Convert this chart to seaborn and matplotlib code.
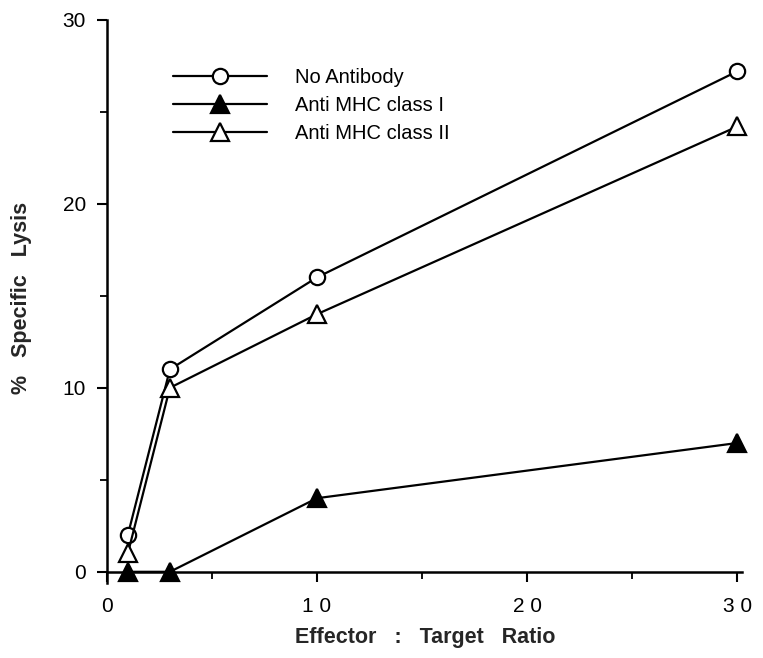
import matplotlib
matplotlib.use("Agg")
import matplotlib.pyplot as plt
import seaborn as sns
import pandas as pd

ratios = [1, 3, 10, 30]
no_antibody = [2, 11, 16, 27.2]
anti_class1 = [0, 0, 4, 7]
anti_class2 = [1, 10, 14, 24.2]
series_names = ["No Antibody", "Anti MHC class I", "Anti MHC class II"]
x_ticks = [0, 10, 20, 30]
y_ticks = [0, 10, 20, 30]

sns.set_theme(style="ticks")
plt.rcParams['font.family'] = ['Liberation Sans', 'DejaVu Sans']

fig = plt.figure(figsize=(7.63, 6.58), dpi=100)
ax = fig.add_axes([0.140, 0.131, 0.832, 0.839])

styles = [
    dict(marker="o", markerfacecolor="white", markersize=11),
    dict(marker="^", markerfacecolor="black", markersize=13),
    dict(marker="^", markerfacecolor="white", markersize=13),
]
for name, vals, st in zip(series_names, [no_antibody, anti_class1, anti_class2], styles):
    df = pd.DataFrame({"ratio": ratios, "lysis": vals})
    sns.lineplot(data=df, x="ratio", y="lysis", ax=ax, color="black", linewidth=1.6,
                 markeredgecolor="black", markeredgewidth=1.6, label=name, **st)

ax.set_xlim(0, 30.2)
ax.set_ylim(0, 30)
ax.set_xticks(x_ticks)
ax.set_yticks(y_ticks)
ax.set_xticks([5, 15, 25], minor=True)
ax.set_yticks([5, 15, 25], minor=True)
ax.set_xticklabels([str(t) if t == 0 else " ".join(str(t)) for t in x_ticks])
ax.tick_params(axis="both", which="major", length=7, width=1.5, labelsize=15, direction="out",
               colors="black")
ax.tick_params(axis="both", which="minor", length=5, width=1.3, direction="out", colors="black")
ax.tick_params(axis="x", pad=11)
ax.tick_params(axis="y", pad=8)
ax.spines["top"].set_visible(False)
ax.spines["right"].set_visible(False)
ax.spines["left"].set_linewidth(1.8)
ax.spines["bottom"].set_linewidth(1.8)
ax.spines["left"].set_bounds(-0.6, 30)
for sp in ax.spines.values():
    sp.set_color("black")
for ln in ax.lines:
    ln.set_clip_on(False)

ax.set_xlabel("")
ax.set_ylabel("")
fig.text(425 / 763, 1 - 637 / 658, "Effector   :   Target   Ratio", fontsize=15.5, fontweight="bold",
         ha="center", va="center")
fig.text(22 / 763, 1 - 298 / 658, "%   Specific   Lysis", fontsize=15.5, fontweight="bold",
         ha="center", va="center", rotation=90)

leg = ax.legend(loc="upper left", bbox_to_anchor=(0.075, 0.945), frameon=False,
                handlelength=4.7, fontsize=14.5, labelspacing=0.45, handletextpad=1.4)
for t in leg.get_texts():
    t.set_color("black")

fig.savefig("out.png", dpi=100)
